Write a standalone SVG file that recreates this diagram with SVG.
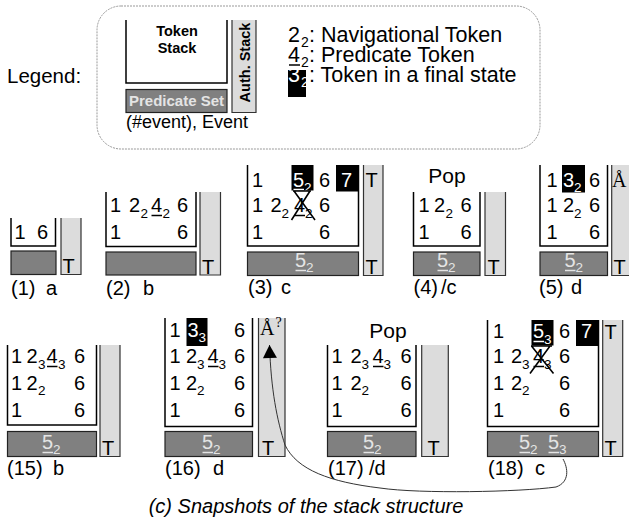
<svg xmlns="http://www.w3.org/2000/svg" width="629" height="529" viewBox="0 0 629 529">
<style>
text{font-family:"Liberation Sans",Arial,sans-serif;fill:#000}
.t{font-size:20px}
.s{font-size:13.5px}
.w{fill:#fff}
.lt{fill:#e4e4e4}
.sf{font-family:"Liberation Serif","Times New Roman",serif}
.bx{fill:none;stroke:#000;stroke-width:1.5}
.pr{fill:#808080;stroke:#222;stroke-width:1.2}
.au{fill:#dcdcdc;stroke:none}
.as{fill:none;stroke:#333;stroke-width:1.2}
.blk{fill:#000}
.ul{stroke:#000;stroke-width:1.5}
.ulw{stroke:#fff;stroke-width:1.5}
.ull{stroke:#e4e4e4;stroke-width:1.5}
.x{stroke:#000;stroke-width:1.6;fill:none}
.b{font-weight:bold}
.pop{font-size:21px}
.lg{font-size:21.5px}
.ls{font-size:14px}
</style>
<defs>
<marker id="ah" markerWidth="16" markerHeight="16" refX="0" refY="0" orient="auto" markerUnits="userSpaceOnUse" viewBox="-14 -8 16 16">
<path d="M0,0 L-13,-7 L-13,7 Z" fill="#000"/>
</marker>
</defs>

<g id="legend">
<rect x="97" y="6" width="443" height="143" rx="24" fill="none" stroke="#999" stroke-width="1" stroke-dasharray="2,1"/>
<text x="7" y="83" style="font-size:20.5px">Legend:</text>
<path class="bx" d="M126,20 V83 H227 V20"/>
<text x="177" y="36" class="b" style="font-size:14.5px" text-anchor="middle">Token</text>
<text x="177" y="53" class="b" style="font-size:14.5px" text-anchor="middle">Stack</text>
<rect class="pr" x="126" y="89.5" width="101" height="23"/>
<text x="176.5" y="106" class="b lt" style="font-size:15px" text-anchor="middle">Predicate Set</text>
<rect class="au" x="232" y="20" width="24" height="92.5"/>
<path class="as" d="M232,20 V112.5 H256 V20"/>
<text transform="translate(250,62.5) rotate(-90)" class="b" style="font-size:14.5px" text-anchor="middle">Auth. Stack</text>
<text x="126" y="128" style="font-size:18px">(#event), Event</text>
<text class="lg" x="288" y="41.5">2</text><text class="ls" x="301" y="46.5">2</text><text class="lg" x="309" y="41.5">: Navigational Token</text>
<line class="ul" x1="289" y1="65" x2="300" y2="65"/>
<text class="lg" x="288" y="61.5">4</text><text class="ls" x="301" y="66.5">2</text><text class="lg" x="309" y="61.5">: Predicate Token</text>
<rect class="blk" x="288" y="70" width="18" height="27"/>
<text class="lg w" x="288" y="81.5">3</text><text class="ls w" x="301" y="86.5">2</text><text class="lg" x="309" y="81.5">: Token in a final state</text>
</g>

<g id="p1">
<path class="bx" d="M11,218 V246 H55.5 V218"/>
<text class="t" x="14.5" y="238.5">1</text><text class="t" x="37" y="238.5">6</text>
<rect class="pr" x="11" y="251" width="45" height="23.5"/>
<rect class="au" x="61" y="218" width="20" height="56.5"/>
<path class="as" d="M61,218 V274.5 H81 V218"/>
<text class="t" x="62.5" y="273">T</text>
<text class="t" x="11" y="295">(1)</text><text class="t" x="46" y="295">a</text>
</g>

<g id="p2">
<path class="bx" d="M106,192 V246.5 H196 V192"/>
<text class="t" x="110" y="212.3">1</text>
<text class="t" x="129" y="212.3">2</text><text class="s" x="140.5" y="217.5">2</text>
<text class="t" x="151" y="212.3">4</text><line class="ul" x1="151.5" y1="215.5" x2="162" y2="215.5"/><text class="s" x="162.5" y="217.5">2</text>
<text class="t" x="177" y="212.3">6</text>
<text class="t" x="110" y="239">1</text><text class="t" x="177" y="239">6</text>
<rect class="pr" x="106" y="252" width="90" height="23"/>
<rect class="au" x="200" y="192" width="20.5" height="83"/>
<path class="as" d="M200,192 V275 H220.5 V192"/>
<text class="t" x="202" y="274">T</text>
<text class="t" x="106" y="295">(2)</text><text class="t" x="143" y="295">b</text>
</g>

<g id="p3">
<path class="bx" d="M247.5,165 V246 H358.5 V165"/>
<text class="t" x="252" y="186.7">1</text>
<rect class="blk" x="291.5" y="165" width="22" height="25.5"/>
<text class="t w" x="293" y="186.7">5</text><line class="ulw" x1="293.5" y1="189.5" x2="304" y2="189.5"/><text class="s w" x="304" y="191.7">2</text>
<text class="t" x="319" y="186.7">6</text>
<rect class="blk" x="336" y="165" width="22.5" height="26.5"/>
<text class="t w" x="341" y="186.7">7</text>
<text class="t" x="252" y="212.3">1</text>
<text class="t" x="270.5" y="212.3">2</text><text class="s" x="281.5" y="217.5">2</text>
<text class="t" x="294" y="212.3">4</text><line class="ul" x1="294.5" y1="215.5" x2="305" y2="215.5"/><text class="s" x="305" y="217.5">2</text>
<path class="x" d="M293,191 H311 M294,191 L315,220 M310,191 L291.5,220"/>
<text class="t" x="319" y="212.3">6</text>
<text class="t" x="252" y="239">1</text><text class="t" x="319" y="239">6</text>
<rect class="pr" x="247.5" y="252" width="111" height="23.5"/>
<text class="t lt" x="295" y="267">5</text><line class="ull" x1="295.5" y1="270.5" x2="306" y2="270.5"/><text class="s lt" x="306" y="272">2</text>
<rect class="au" x="363.5" y="165" width="19.5" height="110.5"/>
<path class="as" d="M363.5,165 V275.5 H383 V165"/>
<text class="t" x="365.5" y="186.5">T</text>
<text class="t" x="365.5" y="274">T</text>
<text class="t" x="248" y="294">(3)</text><text class="t" x="281" y="294">c</text>
</g>

<g id="p4">
<text class="pop" x="447" y="183" text-anchor="middle">Pop</text>
<path class="bx" d="M413.5,192 V246 H480 V192"/>
<text class="t" x="418.5" y="212.3">1</text>
<text class="t" x="434" y="212.3">2</text><text class="s" x="445.5" y="217.5">2</text>
<text class="t" x="460.5" y="212.3">6</text>
<text class="t" x="418.5" y="239">1</text><text class="t" x="460.5" y="239">6</text>
<rect class="pr" x="413.5" y="252" width="66.5" height="23.5"/>
<text class="t lt" x="437" y="267">5</text><line class="ull" x1="437.5" y1="270.5" x2="448" y2="270.5"/><text class="s lt" x="448" y="272">2</text>
<rect class="au" x="485" y="192" width="20.5" height="83.5"/>
<path class="as" d="M485,192 V275.5 H505.5 V192"/>
<text class="t" x="487.5" y="274">T</text>
<text class="t" x="413.5" y="294">(4)</text><text class="t" x="441" y="294">/c</text>
</g>

<g id="p5">
<path class="bx" d="M540,165 V246 H607.5 V165"/>
<text class="t" x="546.5" y="186.7">1</text>
<rect class="blk" x="562" y="165" width="23" height="27.5"/>
<text class="t w" x="563" y="186.7">3</text><text class="s w" x="574" y="191.7">2</text>
<text class="t" x="589" y="186.7">6</text>
<text class="t" x="546.5" y="212.3">1</text>
<text class="t" x="563" y="212.3">2</text><text class="s" x="574" y="217.5">2</text>
<text class="t" x="589" y="212.3">6</text>
<text class="t" x="546.5" y="239">1</text><text class="t" x="589" y="239">6</text>
<rect class="pr" x="540" y="252" width="67.5" height="23.5"/>
<text class="t lt" x="564.5" y="267">5</text><line class="ull" x1="565" y1="270.5" x2="575.5" y2="270.5"/><text class="s lt" x="575.5" y="272">2</text>
<rect class="au" x="611.7" y="165" width="22" height="110.5"/>
<path class="as" d="M611.7,165 V275.5 H634"/>
<text class="t sf" x="612" y="186.5">Å</text>
<text class="t" x="613.5" y="274">T</text>
<text class="t" x="539" y="294">(5)</text><text class="t" x="571" y="294">d</text>
</g>

<g id="p15">
<path class="bx" d="M7.5,345 V425 H96.5 V345"/>
<text class="t" x="11" y="363.3">1</text>
<text class="t" x="26.5" y="363.3">2</text><text class="s" x="38" y="368.5">3</text>
<text class="t" x="46.5" y="363.3">4</text><line class="ul" x1="47" y1="366.5" x2="57.5" y2="366.5"/><text class="s" x="58" y="368.5">3</text>
<text class="t" x="74" y="363.3">6</text>
<text class="t" x="11" y="390">1</text>
<text class="t" x="26.5" y="390">2</text><text class="s" x="38" y="395">2</text>
<text class="t" x="74" y="390">6</text>
<text class="t" x="11" y="416.7">1</text><text class="t" x="74" y="416.7">6</text>
<rect class="pr" x="7.5" y="431.5" width="89" height="25"/>
<text class="t lt" x="42" y="449">5</text><line class="ull" x1="42.5" y1="452.5" x2="53" y2="452.5"/><text class="s lt" x="53" y="454">2</text>
<rect class="au" x="100" y="345" width="20" height="111.5"/>
<path class="as" d="M100,345 V456.5 H120 V345"/>
<text class="t" x="102" y="455">T</text>
<text class="t" x="7" y="475">(15)</text><text class="t" x="53" y="475">b</text>
</g>

<g id="p16">
<path class="bx" d="M165,318 V426.5 H252.5 V318"/>
<text class="t" x="169.5" y="336.7">1</text>
<rect class="blk" x="186.5" y="318" width="21" height="28"/>
<text class="t w" x="187.5" y="336.7">3</text><text class="s w" x="198.5" y="342">3</text>
<text class="t" x="234" y="336.7">6</text>
<text class="t" x="169.5" y="363.3">1</text>
<text class="t" x="186" y="363.3">2</text><text class="s" x="197" y="368.5">3</text>
<text class="t" x="207.5" y="363.3">4</text><line class="ul" x1="208" y1="366.5" x2="218.5" y2="366.5"/><text class="s" x="218.5" y="368.5">3</text>
<text class="t" x="234" y="363.3">6</text>
<text class="t" x="169.5" y="390">1</text>
<text class="t" x="186" y="390">2</text><text class="s" x="197" y="395">2</text>
<text class="t" x="234" y="390">6</text>
<text class="t" x="169.5" y="416.7">1</text><text class="t" x="234" y="416.7">6</text>
<rect class="pr" x="165" y="431.5" width="87.5" height="25"/>
<text class="t lt" x="202" y="449">5</text><line class="ull" x1="202.5" y1="452.5" x2="213" y2="452.5"/><text class="s lt" x="213" y="454">2</text>
<rect class="au" x="258.5" y="318" width="26.5" height="138.5"/>
<path class="as" d="M258.5,318 V456.5 H285 V318"/>
<text class="t sf" x="260" y="335">Å</text><text class="sf" x="275.5" y="327" style="font-size:14px">?</text>
<text class="t" x="262" y="455">T</text>
<text class="t" x="165" y="475">(16)</text><text class="t" x="213" y="475">d</text>
</g>

<g id="p17">
<text class="pop" x="388" y="338" text-anchor="middle">Pop</text>
<path class="bx" d="M327.5,345 V426.5 H416 V345"/>
<text class="t" x="331.5" y="363.3">1</text>
<text class="t" x="350.5" y="363.3">2</text><text class="s" x="361.5" y="368.5">3</text>
<text class="t" x="372.5" y="363.3">4</text><line class="ul" x1="373" y1="366.5" x2="383.5" y2="366.5"/><text class="s" x="383.5" y="368.5">3</text>
<text class="t" x="400.5" y="363.3">6</text>
<text class="t" x="331.5" y="390">1</text>
<text class="t" x="350.5" y="390">2</text><text class="s" x="361.5" y="395">2</text>
<text class="t" x="400.5" y="390">6</text>
<text class="t" x="331.5" y="416.7">1</text><text class="t" x="400.5" y="416.7">6</text>
<rect class="pr" x="327.5" y="431.5" width="88.5" height="25"/>
<text class="t lt" x="363" y="449">5</text><line class="ull" x1="363.5" y1="452.5" x2="374" y2="452.5"/><text class="s lt" x="374" y="454">2</text>
<rect class="au" x="421.7" y="345" width="26.6" height="111.5"/>
<path class="as" d="M421.7,345 V456.5 H448.3 V345"/>
<text class="t" x="427.5" y="455">T</text>
<text class="t" x="328" y="475">(17)</text><text class="t" x="369" y="475">/d</text>
</g>

<g id="p18">
<path class="bx" d="M487.5,320 V426.5 H598.5 V320"/>
<text class="t" x="493" y="338.3">1</text>
<rect class="blk" x="531.5" y="320" width="22" height="25.5"/>
<text class="t w" x="533" y="338.3">5</text><line class="ulw" x1="533.5" y1="341.5" x2="544" y2="341.5"/><text class="s w" x="544" y="343.5">3</text>
<text class="t" x="559" y="338.3">6</text>
<rect class="blk" x="576" y="320" width="22.5" height="26"/>
<text class="t w" x="581" y="338.3">7</text>
<text class="t" x="493" y="363.3">1</text>
<text class="t" x="511" y="363.3">2</text><text class="s" x="522" y="368.5">3</text>
<text class="t" x="533" y="363.3">4</text><line class="ul" x1="533.5" y1="366.5" x2="544" y2="366.5"/><text class="s" x="544" y="368.5">3</text>
<path class="x" d="M531,346 H552 M531.5,346 L553.5,373.5 M550,346 L530,373.5"/>
<text class="t" x="559" y="363.3">6</text>
<text class="t" x="493" y="390">1</text>
<text class="t" x="511" y="390">2</text><text class="s" x="522" y="395">2</text>
<text class="t" x="559" y="390">6</text>
<text class="t" x="493" y="416.7">1</text><text class="t" x="559" y="416.7">6</text>
<rect class="pr" x="487.5" y="431.5" width="111" height="25"/>
<text class="t lt" x="519" y="449">5</text><line class="ull" x1="519.5" y1="452.5" x2="530" y2="452.5"/><text class="s lt" x="530" y="454">2</text>
<text class="t lt" x="548" y="449">5</text><line class="ull" x1="548.5" y1="452.5" x2="559" y2="452.5"/><text class="s lt" x="559" y="454">3</text>
<rect class="au" x="602.7" y="320" width="20" height="136.5"/>
<path class="as" d="M602.7,320 V456.5 H622.7 V320"/>
<text class="t" x="604.5" y="338.5">T</text>
<text class="t" x="604.5" y="455">T</text>
<text class="t" x="488" y="475">(18)</text><text class="t" x="535" y="475">c</text>
</g>

<g id="connectors">
<path d="M563,459 C568,468 570,482 556,487 C520,492 420,494 380,488 C330,482 297,470 285,445 C277,420 271,390 269.5,345" fill="none" stroke="#333" stroke-width="1" marker-end="url(#ah)"/>
</g>

<text x="306" y="513" text-anchor="middle" style="font-size:20px;font-style:italic">(c) Snapshots of the stack structure</text>
</svg>
